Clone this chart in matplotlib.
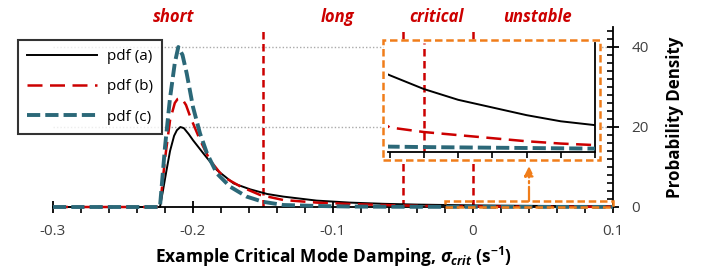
import numpy as np
import matplotlib
matplotlib.use("Agg")
import matplotlib.pyplot as plt
from matplotlib.patches import Rectangle
from matplotlib.ticker import MultipleLocator, FuncFormatter

plt.rcParams['font.family'] = ['Open Sans', 'DejaVu Sans']
plt.rcParams['mathtext.fontset'] = 'custom'
plt.rcParams['mathtext.it'] = 'Open Sans:italic:bold'
plt.rcParams['mathtext.bf'] = 'Open Sans:bold'
plt.rcParams['mathtext.rm'] = 'Open Sans:bold'

# pdf curves
x_a = [-0.3, -0.2236, -0.2215, -0.219, -0.2164, -0.2135, -0.2115, -0.209, -0.2065, -0.203,
       -0.2, -0.1926, -0.183, -0.171, -0.159, -0.147, -0.1355, -0.1117, -0.088, -0.064,
       -0.04, -0.02, 0.0, 0.02, 0.04, 0.06, 0.08, 0.1]
y_a = [0, 0, 4, 9, 14, 17.8, 19.2, 20, 19.7, 18.2,
       16.7, 13.4, 9.25, 5.9, 4.4, 3.25, 2.6, 1.6, 1.1, 0.8,
       0.6, 0.5, 0.41, 0.34, 0.29, 0.24, 0.2, 0.175]

x_b = [-0.3, -0.2236, -0.22, -0.2164, -0.213, -0.211, -0.209, -0.207, -0.205, -0.202,
       -0.195, -0.188, -0.1786, -0.166, -0.152, -0.1355, -0.1117, -0.088, -0.064, -0.04,
       -0.02, 0.0, 0.02, 0.04, 0.06, 0.08, 0.1]
y_b = [0, 0, 12, 21.7, 26, 27, 27.2, 26.6, 25.5, 22.6,
       16.75, 11.75, 7.6, 5.1, 3.0, 1.75, 1.1, 0.75, 0.5, 0.3,
       0.16, 0.13, 0.11, 0.09, 0.07, 0.055, 0.045]

x_c = [-0.3, -0.2236, -0.22, -0.2165, -0.213, -0.2105, -0.2075, -0.2045, -0.2, -0.195,
       -0.19, -0.183, -0.1736, -0.1617, -0.15, -0.1355, -0.11, -0.088, -0.064, -0.04,
       -0.02, 0.0, 0.02, 0.04, 0.06, 0.08, 0.1]
y_c = [0, 0, 15, 27, 36, 40, 38, 33.4, 25, 18.4,
       13.4, 8.4, 5.1, 2.6, 1.3, 0.5, 0.25, 0.12, 0.07, 0.045,
       0.035, 0.032, 0.03, 0.028, 0.026, 0.024, 0.022]

labels = ['pdf (a)', 'pdf (b)', 'pdf (c)']
region_names = ['short', 'long', 'critical', 'unstable']
region_x = [-0.214, -0.097, -0.026, 0.046]
bounds = [-0.15, -0.05, 0.0]
zoom_x = [-0.02, 0.1]
zoom_y = [0, 1.5]

RED = '#cc0000'
TEAL = '#2b6878'
ORANGE = '#f07d1a'
GREY = '#404040'

fig = plt.figure(figsize=(7.02, 2.72), dpi=100)
ax = fig.add_axes([53/702, 65/272, 560/702, 180/272])

styles = [dict(color='black', lw=1.4, ls='-'),
          dict(color=RED, lw=1.8, ls=(0, (6, 3))),
          dict(color=TEAL, lw=2.8, ls=(0, (3.4, 1.3)))]
for xs, ys, lab, st in zip([x_a, x_b, x_c], [y_a, y_b, y_c], labels, styles):
    ax.plot(xs, ys, label=lab, clip_on=False, zorder=3, **st)

for b in bounds:
    ax.axvline(b, color=RED, lw=1.8, ls=(0, (3, 1.8)), zorder=2)

ax.set_xlim(-0.3, 0.1)
ax.set_ylim(0, 45)
for s in ['left', 'top']:
    ax.spines[s].set_visible(False)
ax.spines['bottom'].set_linewidth(1.3)
ax.spines['right'].set_linewidth(1.3)
ax.yaxis.tick_right()
ax.yaxis.set_label_position('right')
ax.xaxis.set_major_locator(MultipleLocator(0.1))
ax.xaxis.set_minor_locator(MultipleLocator(0.02))
ax.xaxis.set_major_formatter(FuncFormatter(lambda v, p: f'{round(v, 2) + 0:g}'))
ax.yaxis.set_major_locator(MultipleLocator(20))
ax.yaxis.set_minor_locator(MultipleLocator(2))
ax.tick_params(axis='both', which='major', direction='inout', length=9, width=1.3,
               labelsize=11, labelcolor=GREY)
ax.tick_params(axis='x', which='major', pad=8)
ax.tick_params(axis='y', which='major', pad=9)
ax.tick_params(axis='x', which='minor', direction='out', length=4, width=1.2)
ax.tick_params(axis='y', which='minor', direction='in', length=4, width=1.2)
ax.grid(axis='y', which='major', ls=(0, (1, 1.5)), color='#aaaaaa', lw=1.0, zorder=0)

ax.set_xlabel(r'Example Critical Mode Damping, $\sigma_{crit}$ (s$^{\mathbf{-1}}$)',
              fontsize=12.5, fontweight='bold', color='black', labelpad=4)
ax.set_ylabel('Probability Density', fontsize=12.2, fontweight='bold', labelpad=12)

for name, xr in zip(region_names, region_x):
    ax.text(xr, 47.5, name, color=RED, fontsize=12, fontweight='bold', style='italic',
            ha='center', va='center', clip_on=False)

# zoom marker, arrow and inset frame
ax.add_patch(Rectangle((zoom_x[0], zoom_y[0]), zoom_x[1] - zoom_x[0], zoom_y[1] - zoom_y[0],
                       fill=False, ec=ORANGE, lw=1.8, ls=(0, (3, 1.5)), zorder=6, clip_on=False))
ax.annotate('', xy=(0.04, 10.2), xytext=(0.04, zoom_y[1]),
            arrowprops=dict(arrowstyle='-|>', color=ORANGE, lw=1.6, ls='-.',
                            mutation_scale=14, shrinkA=0, shrinkB=0), zorder=6)
ax.add_patch(Rectangle((-0.064, 11.75), 0.1547, 30.0, fc='white', ec=ORANGE, lw=1.8,
                       ls=(0, (3, 1.5)), zorder=5))

leg = ax.legend(loc='upper left', bbox_to_anchor=(18/702, 1 - 40/272),
                bbox_transform=fig.transFigure, frameon=True, fancybox=False,
                fontsize=11, handlelength=4.6, labelspacing=1.0, borderaxespad=0,
                borderpad=0.6, handletextpad=0.6)
leg.get_frame().set_edgecolor('black')
leg.get_frame().set_linewidth(1.5)
leg.set_zorder(7)

# inset
ins = fig.add_axes([388/702, 120/272, 207/702, 109/272])
ins.patch.set_alpha(0)
for xs, ys, st in zip([x_a, x_b, x_c], [y_a, y_b, y_c], styles):
    ins.plot(xs, ys, zorder=3, **st)
ins.axvline(0.0, color=RED, lw=1.8, ls=(0, (3, 1.8)), zorder=2)
ins.set_xlim(-0.021, 0.1)
ins.set_ylim(0, 0.71)
for s in ['left', 'top']:
    ins.spines[s].set_visible(False)
ins.spines['bottom'].set_linewidth(1.3)
ins.spines['right'].set_linewidth(1.3)
ins.xaxis.set_major_locator(MultipleLocator(0.02))
ins.tick_params(axis='x', direction='out', length=4, width=1.2, labelbottom=False)
ins.set_yticks([])

fig.savefig('out.png', dpi=100)
